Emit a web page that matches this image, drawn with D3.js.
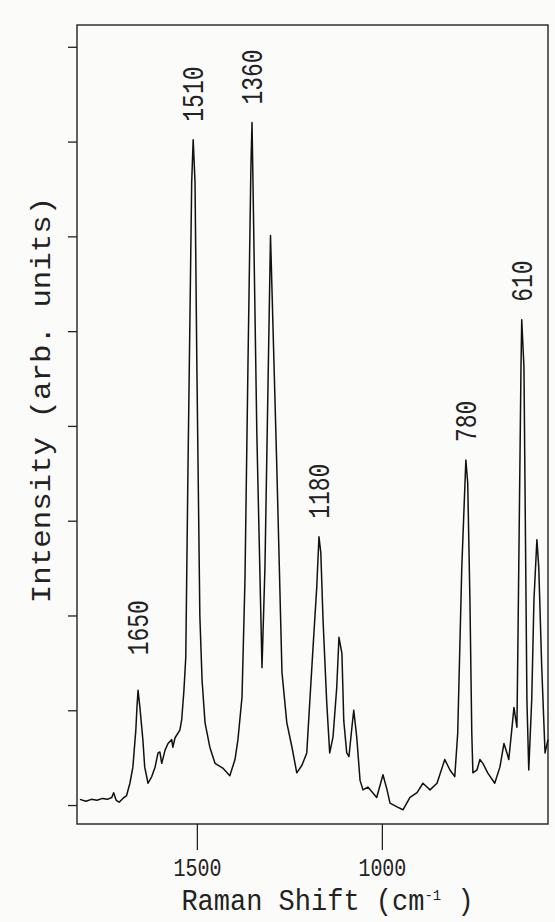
<!DOCTYPE html>
<html>
<head>
<meta charset="utf-8">
<script src="https://cdn.jsdelivr.net/npm/d3@7"></script>
<style>
  body { margin: 0; background: #fbfbfa; }
  text { font-family: "Liberation Mono", "Courier New", monospace; fill: #222; }
</style>
</head>
<body>
<div id="chart-container"></div>
<script>
// Raman shift (cm-1) and intensity (arb. units)
const shift = [
  1816, 1800, 1785, 1770, 1755, 1742, 1730, 1725, 1718, 1710, 1700, 1690,
  1681, 1673, 1665, 1662, 1659, 1654, 1646, 1641, 1632, 1622, 1613, 1605,
  1600, 1595, 1586, 1578, 1568, 1565, 1559, 1546, 1541, 1535, 1530, 1524,
  1514, 1510, 1505, 1500, 1492, 1486, 1478, 1465, 1451, 1430, 1411, 1397,
  1389, 1378, 1370, 1362, 1354, 1351, 1349, 1338, 1324, 1316, 1301, 1284,
  1270, 1257, 1243, 1230, 1216, 1203, 1195, 1187, 1176, 1170, 1165, 1159,
  1149, 1141, 1132, 1122, 1116, 1108, 1103, 1095, 1089, 1081, 1076, 1068,
  1059, 1051, 1038, 1027, 1014, 997, 986, 978, 959, 943, 924, 905,
  889, 878, 870, 851, 830, 816, 803, 795, 784, 773, 768, 762,
  757, 754, 743, 735, 727, 714, 695, 681, 670, 662, 657, 649,
  643, 635, 632, 624, 622, 616, 608, 603, 595, 589, 581, 576,
  568, 559, 551
];
const intensity = [
  0.06, 0.04, 0.06, 0.05, 0.07, 0.06, 0.08, 0.13, 0.05, 0.03, 0.07, 0.10,
  0.23, 0.40, 0.79, 1.03, 1.21, 1.03, 0.69, 0.40, 0.23, 0.30, 0.40, 0.55,
  0.56, 0.44, 0.58, 0.65, 0.69, 0.61, 0.71, 0.79, 0.90, 1.21, 1.56, 3.57,
  6.57, 7.02, 6.57, 4.62, 2.00, 1.32, 0.87, 0.61, 0.44, 0.39, 0.31, 0.48,
  0.69, 1.14, 2.38, 4.62, 6.73, 7.20, 6.73, 3.93, 1.45, 2.51, 6.01, 3.57,
  1.40, 0.87, 0.61, 0.34, 0.42, 0.55, 1.08, 1.60, 2.30, 2.83, 2.66, 1.95,
  1.08, 0.55, 0.72, 1.24, 1.77, 1.60, 0.89, 0.55, 0.51, 0.82, 1.00, 0.72,
  0.26, 0.16, 0.19, 0.14, 0.08, 0.32, 0.16, 0.02, -0.02, -0.05, 0.08, 0.13,
  0.23, 0.19, 0.16, 0.23, 0.48, 0.37, 0.30, 0.76, 2.51, 3.64, 3.40, 2.16,
  0.76, 0.34, 0.37, 0.48, 0.44, 0.34, 0.23, 0.40, 0.65, 0.55, 0.48, 0.79,
  1.03, 0.82, 1.81, 4.62, 5.12, 4.62, 1.11, 0.37, 1.11, 2.16, 2.80, 2.51,
  1.46, 0.55, 0.69
];

const peakLabels = ["1650", "1510", "1360", "1180", "780", "610"];
const peakShift = [1659, 1510, 1351, 1170, 773, 622];

const xTicks = [1500, 1000];
const yTicks = [0, 1, 2, 3, 4, 5, 6, 7, 8];

const data = shift.map((s, i) => ({ shift: s, value: intensity[i] }));

const width = 555;
const height = 922;

const x = d3.scaleLinear([1824, 551], [77, 548]);
const y = d3.scaleLinear([-0.2, 8.23], [824, 25]);

const svg = d3
  .select("#chart-container")
  .append("svg")
  .attr("width", width)
  .attr("height", height);

// frame
svg
  .append("rect")
  .attr("x", x.range()[0])
  .attr("y", y.range()[1])
  .attr("width", x.range()[1] - x.range()[0])
  .attr("height", y.range()[0] - y.range()[1])
  .attr("fill", "none")
  .attr("stroke", "#222")
  .attr("stroke-width", 1.4);

// left ticks, no labels
svg
  .append("g")
  .attr("transform", `translate(${x.range()[0]},0)`)
  .call(d3.axisLeft(y).tickValues(yTicks).tickFormat("").tickSize(9))
  .call((g) => g.select(".domain").remove())
  .call((g) => g.selectAll(".tick line").attr("stroke", "#222").attr("stroke-width", 1.3));

// bottom ticks
svg
  .append("g")
  .attr("transform", `translate(0,${y.range()[0]})`)
  .call(d3.axisBottom(x).tickValues(xTicks).tickFormat(d3.format("d")).tickSize(26))
  .call((g) => g.select(".domain").remove())
  .call((g) => g.selectAll(".tick line").attr("stroke", "#222").attr("stroke-width", 1.3))
  .call((g) =>
    g
      .selectAll(".tick text")
      .attr("font-family", null)
      .attr("font-size", null)
      .style("font-size", "20px")
      .attr("y", 0)
      .attr("dy", 0)
      .attr("transform", "translate(0,52) scale(1,1.3)")
  );

// spectrum
const line = d3
  .line()
  .x((d) => x(d.shift))
  .y((d) => y(d.value));

svg
  .append("path")
  .attr("d", line(data))
  .attr("fill", "none")
  .attr("stroke", "#111")
  .attr("stroke-width", 1.5)
  .attr("stroke-linejoin", "round");

// peak labels above each band
const labelGap = { "1650": 35 };
peakLabels.forEach((lab, i) => {
  const near = data.filter((d) => Math.abs(d.shift - peakShift[i]) < 6);
  const top = d3.max(near, (d) => d.value);
  const px = x(peakShift[i]);
  const py = y(top) - (labelGap[lab] || 18);
  svg
    .append("text")
    .attr("transform", `translate(${px},${py}) rotate(-90) scale(1,1.25)`)
    .attr("text-anchor", "start")
    .attr("dy", "0.35em")
    .style("font-size", "23px")
    .text(lab);
});

// axis titles
const xTitle = svg
  .append("text")
  .attr("transform", `translate(${(x.range()[0] + x.range()[1]) / 2 + 15},910) scale(1,1.1)`)
  .attr("text-anchor", "middle")
  .style("font-size", "27px");
xTitle.append("tspan").text("Raman Shift (cm");
xTitle.append("tspan").attr("dy", -9).style("font-size", "14px").text("-1");
xTitle.append("tspan").attr("dy", 9).text(" )");

svg
  .append("text")
  .attr("transform", "translate(50,400) rotate(-90) scale(1.1,1)")
  .attr("text-anchor", "middle")
  .style("font-size", "28px")
  .text("Intensity (arb. units)");
</script>
</body>
</html>
